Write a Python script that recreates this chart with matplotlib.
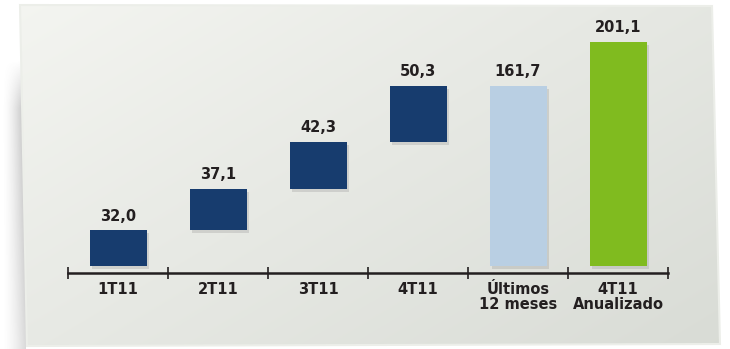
import numpy as np
import matplotlib
matplotlib.use("Agg")
import matplotlib.pyplot as plt
from matplotlib.patches import Polygon
import matplotlib.patheffects as pe

# Data
categories = ["1T11", "2T11", "3T11", "4T11", "Últimos\n12 meses", "4T11\nAnualizado"]
values = [32.0, 37.1, 42.3, 50.3, 161.7, 201.1]
value_labels = ["32,0", "37,1", "42,3", "50,3", "161,7", "201,1"]
is_total = [False, False, False, False, True, True]
colors = ["#173c6e", "#173c6e", "#173c6e", "#173c6e", "#b9cfe3", "#80bb1f"]

# waterfall bottoms
bottoms = []
running = 0.0
for v, tot in zip(values, is_total):
    if tot:
        bottoms.append(0.0)
    else:
        bottoms.append(running)
        running += v

W, H = 730, 349
fig = plt.figure(figsize=(W / 100, H / 100), dpi=100)
fig.patch.set_facecolor("white")

# background panel with soft shadow on the left
bg = fig.add_axes([0, 0, 1, 1])
bg.set_xlim(0, W)
bg.set_ylim(H, 0)
bg.axis("off")

# shadow: rgba image, fades to the left and towards the top
sx = np.linspace(0, 1, 60)
sy = np.linspace(0, 1, 200)
SX, SY = np.meshgrid(sx, sy)
alpha = (SX ** 1.6) * np.clip(SY * 6, 0, 1) * (1 - 0.5 * SY) * 0.45
shadow = np.zeros((200, 60, 4))
shadow[..., :3] = 0.35
shadow[..., 3] = alpha
bg.imshow(shadow, extent=[2, 26, 349, 60], aspect="auto", zorder=0.5)

panel = np.array([(20, 5), (712, 6), (720, 344), (27, 346)])
grad = np.linspace(0, 1, 256)
gx, gy = np.meshgrid(grad, grad)
g = np.clip(0.55 * gx + 0.45 * gy, 0, 1)
c0 = np.array([0.955, 0.959, 0.943])
c1 = np.array([0.850, 0.862, 0.838])
img = c0[None, None, :] * (1 - g[..., None]) + c1[None, None, :] * g[..., None]
im = bg.imshow(img, extent=[20, 720, 346, 5], aspect="auto", zorder=1)
poly = Polygon(panel, closed=True, facecolor="none", edgecolor="#eceee9", lw=1.5, zorder=2)
bg.add_patch(poly)
im.set_clip_path(poly)

# chart axes
px = 224 / 201.1
ax_top, ax_bot, base = 30, 273, 266
ylo = -(ax_bot - base) / px
yhi = (base - ax_top) / px
ax = fig.add_axes([68 / W, 1 - ax_bot / H, 600 / W, (ax_bot - ax_top) / H])
ax.patch.set_alpha(0)
x = np.arange(len(categories))
bars = ax.bar(x, values, bottom=bottoms, width=0.57, color=colors, zorder=3)
for b in bars:
    b.set_path_effects([pe.SimplePatchShadow(offset=(2, -2), shadow_rgbFace="#888888", alpha=0.25),
                        pe.Normal()])
for xi, v, btm, lab in zip(x, values, bottoms, value_labels):
    ax.text(xi, btm + v + 6, lab, ha="center", va="bottom", fontsize=10.5,
            fontweight="bold", color="#231f20", family=["Liberation Sans Narrow", "DejaVu Sans"])

ax.set_xlim(-0.5, len(categories) - 0.5)
ax.set_ylim(ylo, yhi)
for s in ["top", "right", "left"]:
    ax.spines[s].set_visible(False)
ax.spines["bottom"].set_color("#231f20")
ax.spines["bottom"].set_linewidth(1.8)
ax.set_yticks([])
ax.set_xticks(np.arange(-0.5, len(categories)), minor=False)
ax.set_xticklabels([])
ax.tick_params(axis="x", direction="inout", length=9, width=1.2, color="#231f20")
for xi, cat in zip(x, categories):
    ax.text(xi, ylo - 8, cat, ha="center", va="top", fontsize=10.5, fontweight="bold",
            color="#231f20", linespacing=1.0, family=["Liberation Sans Narrow", "DejaVu Sans"])

fig.savefig("out.png", dpi=100)
